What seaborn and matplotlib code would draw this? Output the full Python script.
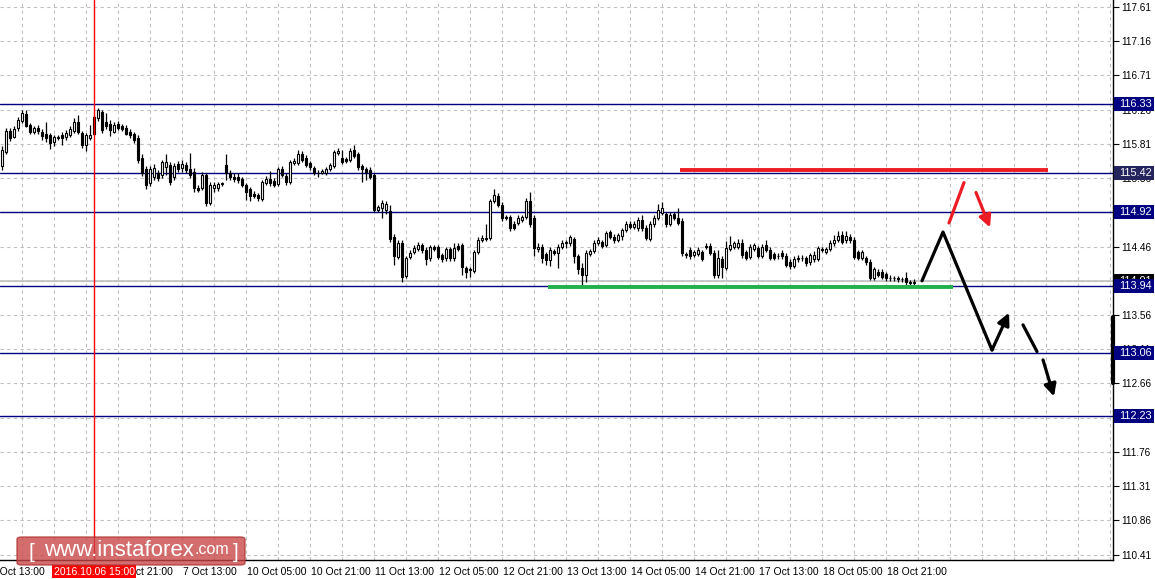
import numpy as np
import pandas as pd
import matplotlib
matplotlib.use("Agg")
import matplotlib.pyplot as plt
import matplotlib.transforms as mtrans
from matplotlib.patches import FancyBboxPatch, Rectangle
import seaborn as sns

# H1 candles, 5 Oct 16:00 -> 19 Oct 04:00
opens = [
    115.52, 115.70, 115.98, 115.90, 116.02, 116.11, 116.20, 116.06, 115.97, 116.02,
    115.97, 115.94, 115.92, 115.84, 115.89, 115.93, 115.90, 115.93, 115.98, 116.10,
    115.95, 115.80, 115.89, 116.16, 116.15, 116.23, 116.10, 116.07, 115.97, 116.07,
    116.05, 116.02, 115.97, 115.94, 115.89, 115.63, 115.48, 115.30, 115.38, 115.43,
    115.40, 115.51, 115.53, 115.38, 115.55, 115.49, 115.53, 115.48, 115.44, 115.23,
    115.23, 115.40, 115.03, 115.23, 115.23, 115.28, 115.53, 115.43, 115.38, 115.37,
    115.35, 115.27, 115.21, 115.15, 115.14, 115.09, 115.30, 115.35, 115.32, 115.28,
    115.48, 115.39, 115.31, 115.56, 115.56, 115.68, 115.63, 115.56, 115.49, 115.43,
    115.43, 115.43, 115.48, 115.52, 115.69, 115.63, 115.61, 115.60, 115.73, 115.67,
    115.52, 115.48, 115.47, 115.40, 114.94, 114.96, 114.94, 114.93, 114.59, 114.32,
    114.51, 114.07, 114.32, 114.39, 114.43, 114.48, 114.42, 114.31, 114.45, 114.45,
    114.35, 114.31, 114.43, 114.31, 114.47, 114.48, 114.18, 114.16, 114.14, 114.39,
    114.55, 114.57, 114.57, 115.06, 115.13, 115.01, 114.85, 114.85, 114.76, 114.77,
    114.81, 114.85, 115.06, 114.84, 114.43, 114.46, 114.36, 114.28, 114.40, 114.38,
    114.46, 114.51, 114.50, 114.56, 114.33, 114.18, 114.09, 114.36, 114.40, 114.51,
    114.52, 114.48, 114.65, 114.59, 114.55, 114.60, 114.68, 114.75, 114.72, 114.71,
    114.81, 114.71, 114.56, 114.75, 114.84, 114.90, 114.89, 114.76, 114.89, 114.84,
    114.80, 114.36, 114.42, 114.35, 114.36, 114.39, 114.47, 114.47, 114.38, 114.08,
    114.30, 114.18, 114.43, 114.46, 114.46, 114.51, 114.39, 114.32, 114.43, 114.44,
    114.34, 114.48, 114.42, 114.36, 114.34, 114.38, 114.34, 114.26, 114.21, 114.29,
    114.31, 114.31, 114.26, 114.30, 114.30, 114.43, 114.39, 114.43, 114.50, 114.55,
    114.61, 114.55, 114.59, 114.55, 114.39, 114.31, 114.31, 114.26, 114.05, 114.13,
    114.13, 114.10, 114.05, 114.04, 114.04, 114.03, 114.05, 113.99, 113.98,
]
highs = [
    115.78, 116.02, 116.02, 116.05, 116.16, 116.26, 116.26, 116.09, 116.05, 116.06,
    116.01, 116.10, 115.95, 115.93, 115.93, 115.96, 115.99, 116.05, 116.15, 116.19,
    115.98, 115.95, 116.06, 116.19, 116.28, 116.26, 116.22, 116.12, 116.10, 116.11,
    116.07, 116.06, 116.01, 115.97, 115.93, 115.67, 115.52, 115.52, 115.54, 115.47,
    115.60, 115.67, 115.57, 115.56, 115.59, 115.60, 115.57, 115.69, 115.49, 115.27,
    115.44, 115.43, 115.31, 115.31, 115.31, 115.31, 115.67, 115.47, 115.42, 115.42,
    115.38, 115.30, 115.24, 115.19, 115.17, 115.34, 115.39, 115.45, 115.36, 115.51,
    115.52, 115.42, 115.60, 115.62, 115.73, 115.72, 115.66, 115.59, 115.52, 115.47,
    115.48, 115.51, 115.56, 115.73, 115.75, 115.73, 115.64, 115.75, 115.80, 115.70,
    115.55, 115.51, 115.50, 115.43, 115.01, 115.07, 115.06, 115.01, 114.62, 114.54,
    114.54, 114.34, 114.42, 114.48, 114.52, 114.51, 114.45, 114.48, 114.48, 114.48,
    114.38, 114.46, 114.46, 114.50, 114.50, 114.51, 114.21, 114.19, 114.42, 114.58,
    114.61, 114.75, 115.09, 115.21, 115.17, 115.04, 114.88, 114.88, 114.79, 114.87,
    114.88, 115.10, 115.18, 114.87, 114.50, 114.49, 114.39, 114.45, 114.43, 114.49,
    114.55, 114.55, 114.61, 114.59, 114.36, 114.25, 114.41, 114.43, 114.54, 114.58,
    114.55, 114.67, 114.68, 114.62, 114.64, 114.71, 114.79, 114.80, 114.79, 114.85,
    114.87, 114.74, 114.79, 114.87, 115.02, 115.05, 114.92, 114.91, 114.92, 114.97,
    114.83, 114.39, 114.45, 114.42, 114.45, 114.42, 114.50, 114.50, 114.41, 114.41,
    114.33, 114.53, 114.60, 114.53, 114.56, 114.56, 114.42, 114.49, 114.51, 114.47,
    114.49, 114.55, 114.45, 114.39, 114.37, 114.41, 114.37, 114.29, 114.33, 114.35,
    114.35, 114.34, 114.38, 114.40, 114.47, 114.46, 114.46, 114.54, 114.61, 114.66,
    114.66, 114.66, 114.63, 114.58, 114.42, 114.42, 114.34, 114.29, 114.19, 114.16,
    114.16, 114.13, 114.08, 114.07, 114.07, 114.06, 114.12, 114.02, 114.03,
]
lows = [
    115.47, 115.67, 115.85, 115.88, 115.98, 116.09, 116.03, 115.94, 115.94, 115.94,
    115.86, 115.84, 115.74, 115.78, 115.86, 115.80, 115.86, 115.90, 115.95, 115.94,
    115.76, 115.72, 115.86, 115.92, 116.11, 115.95, 116.01, 115.91, 115.95, 115.99,
    115.98, 115.92, 115.88, 115.82, 115.56, 115.39, 115.21, 115.25, 115.34, 115.32,
    115.36, 115.40, 115.27, 115.34, 115.44, 115.44, 115.42, 115.36, 115.18, 115.18,
    115.20, 114.99, 115.01, 115.18, 115.19, 115.26, 115.34, 115.34, 115.31, 115.30,
    115.24, 115.07, 115.06, 115.10, 115.06, 115.06, 115.27, 115.26, 115.24, 115.25,
    115.37, 115.27, 115.28, 115.53, 115.53, 115.57, 115.50, 115.47, 115.40, 115.38,
    115.41, 115.40, 115.45, 115.49, 115.66, 115.54, 115.56, 115.57, 115.62, 115.47,
    115.31, 115.34, 115.35, 114.91, 114.91, 114.84, 114.89, 114.52, 114.22, 114.29,
    114.00, 114.04, 114.29, 114.36, 114.40, 114.38, 114.22, 114.27, 114.40, 114.29,
    114.26, 114.27, 114.27, 114.27, 114.40, 114.08, 114.05, 114.06, 114.11, 114.36,
    114.52, 114.53, 114.54, 115.03, 114.98, 114.80, 114.81, 114.66, 114.68, 114.74,
    114.78, 114.82, 114.72, 114.33, 114.39, 114.25, 114.22, 114.20, 114.35, 114.18,
    114.43, 114.44, 114.47, 114.25, 114.10, 113.96, 113.99, 114.33, 114.37, 114.48,
    114.44, 114.45, 114.56, 114.51, 114.52, 114.55, 114.65, 114.69, 114.69, 114.67,
    114.67, 114.54, 114.53, 114.72, 114.81, 114.87, 114.72, 114.73, 114.81, 114.74,
    114.33, 114.31, 114.30, 114.32, 114.33, 114.27, 114.43, 114.35, 114.05, 114.05,
    114.05, 114.15, 114.40, 114.43, 114.43, 114.31, 114.28, 114.29, 114.40, 114.31,
    114.31, 114.39, 114.28, 114.28, 114.30, 114.30, 114.19, 114.17, 114.18, 114.26,
    114.27, 114.21, 114.22, 114.26, 114.27, 114.39, 114.36, 114.40, 114.47, 114.52,
    114.49, 114.51, 114.51, 114.29, 114.28, 114.28, 114.22, 114.02, 114.02, 114.06,
    114.03, 114.01, 114.01, 114.01, 114.00, 114.00, 113.96, 113.95, 113.95,
]
closes = [
    115.73, 115.98, 115.89, 116.01, 116.12, 116.22, 116.05, 115.97, 116.02, 115.98,
    115.91, 115.89, 115.82, 115.90, 115.90, 115.89, 115.95, 116.01, 116.10, 115.97,
    115.80, 115.92, 115.93, 115.94, 116.26, 115.99, 116.05, 115.99, 116.06, 116.02,
    116.01, 115.94, 115.93, 115.86, 115.60, 115.43, 115.27, 115.48, 115.49, 115.36,
    115.57, 115.57, 115.31, 115.52, 115.48, 115.55, 115.47, 115.40, 115.23, 115.20,
    115.40, 115.03, 115.27, 115.27, 115.28, 115.29, 115.42, 115.38, 115.35, 115.34,
    115.27, 115.18, 115.13, 115.13, 115.10, 115.31, 115.35, 115.30, 115.27, 115.48,
    115.40, 115.31, 115.57, 115.59, 115.67, 115.60, 115.53, 115.51, 115.43, 115.42,
    115.45, 115.48, 115.53, 115.70, 115.72, 115.57, 115.59, 115.72, 115.65, 115.51,
    115.48, 115.44, 115.38, 114.94, 114.98, 115.03, 115.02, 114.56, 114.34, 114.51,
    114.06, 114.31, 114.38, 114.44, 114.48, 114.42, 114.29, 114.45, 114.43, 114.32,
    114.30, 114.43, 114.31, 114.44, 114.43, 114.19, 114.13, 114.15, 114.39, 114.55,
    114.57, 114.56, 115.06, 115.14, 115.01, 114.84, 114.84, 114.71, 114.71, 114.84,
    114.85, 115.06, 114.75, 114.44, 114.46, 114.31, 114.28, 114.42, 114.38, 114.46,
    114.51, 114.52, 114.58, 114.33, 114.17, 114.08, 114.38, 114.40, 114.51, 114.54,
    114.47, 114.64, 114.59, 114.54, 114.61, 114.68, 114.75, 114.72, 114.75, 114.81,
    114.71, 114.57, 114.76, 114.84, 114.94, 114.97, 114.76, 114.88, 114.84, 114.77,
    114.38, 114.35, 114.34, 114.39, 114.42, 114.30, 114.46, 114.38, 114.08, 114.31,
    114.19, 114.44, 114.48, 114.50, 114.51, 114.35, 114.31, 114.46, 114.48, 114.34,
    114.46, 114.42, 114.31, 114.31, 114.33, 114.33, 114.22, 114.21, 114.30, 114.31,
    114.31, 114.25, 114.35, 114.35, 114.44, 114.42, 114.43, 114.51, 114.55, 114.60,
    114.52, 114.60, 114.54, 114.32, 114.31, 114.39, 114.26, 114.05, 114.16, 114.09,
    114.06, 114.04, 114.04, 114.04, 114.03, 114.03, 113.99, 113.98, 114.00,
]

# horizontal levels drawn on the chart
levels = [116.33, 115.42, 114.92, 113.94, 113.06, 112.23]
level_box = ["#000080", "#25255e", "#000080", "#000080", "#000080", "#000080"]
bid = 114.01

# price scale
y_ticks = [117.61, 117.16, 116.71, 116.26, 115.81, 115.36, 114.91, 114.46,
           114.01, 113.56, 113.11, 112.66, 112.21, 111.76, 111.31, 110.86, 110.41]

# time axis (bar index -> label)
time_pos = [-3, 13, 29, 45, 61, 77, 93, 109, 125, 141, 157, 173, 189, 205, 221]
time_labels = ["5 Oct 13:00", "6 Oct 05:00", "6 Oct 21:00", "7 Oct 13:00",
               "10 Oct 05:00", "10 Oct 21:00", "11 Oct 13:00", "12 Oct 05:00",
               "12 Oct 21:00", "13 Oct 13:00", "14 Oct 05:00", "14 Oct 21:00",
               "17 Oct 13:00", "18 Oct 05:00", "18 Oct 21:00"]
marker_bar = 23
marker_label = "2016.10.06 15:00"

# forecast drawings (bar index, price)
forecast_x = [230.0, 235.25, 247.5]
forecast_y = [114.01, 114.65, 113.10]
rebound_tip = (251.75, 113.59)
dash1 = [(255.25, 113.43), (258.75, 113.08)]
dash2 = [(260.25, 112.97), (263.0, 112.49)]
red_stroke = [(236.75, 114.77), (240.5, 115.30)]
red_arrow = [(243.5, 115.17), (247.0, 114.71)]
resist = (169.5, 261.5, 115.46)
support = (136.5, 237.75, 113.93)

df = pd.DataFrame({"open": opens, "high": highs, "low": lows, "close": closes})
df["bar"] = np.arange(len(df))
df["high"] = df[["open", "high", "close"]].max(axis=1)
df["low"] = df[["open", "low", "close"]].min(axis=1)
df["bull"] = df["close"] >= df["open"]

sns.set_style("white")
plt.rcParams["font.family"] = ["Liberation Sans", "DejaVu Sans"]

W, H = 1155, 579
fig = plt.figure(figsize=(W / 100, H / 100), dpi=100)
ax = fig.add_axes([0, 1 - 560 / H, 1113 / W, 560 / H])

# grid
for y in y_ticks:
    ax.axhline(y, color="#c0c0c0", lw=0.8, dashes=(3, 3), zorder=0)
for x in np.arange(5, 280, 8):
    ax.axvline(x, color="#c0c0c0", lw=0.8, dashes=(3, 3), zorder=0)

# levels
ax.axhline(bid, color="#c0c0c0", lw=1.2, zorder=1)
for lv in levels:
    ax.axhline(lv, color="#000080", lw=1.0, zorder=1)
ax.axvline(marker_bar, color="red", lw=1.0, zorder=4)

# candles
ax.vlines(df["bar"], df["low"], df["high"], color="black", lw=0.9, zorder=2)
body_bottom = df[["open", "close"]].min(axis=1)
body_h = (df["close"] - df["open"]).abs()
ax.bar(df["bar"], body_h, bottom=body_bottom, width=0.72,
       color=np.where(df["bull"], "white", "black"), edgecolor="black",
       linewidth=0.8, zorder=3)

# support / resistance
ax.plot([resist[0], resist[1]], [resist[2], resist[2]], color="#ed1c24", lw=2.8,
        solid_capstyle="butt", zorder=5)
ax.plot([support[0], support[1]], [support[2], support[2]], color="#22b14c", lw=2.8,
        solid_capstyle="butt", zorder=5)

# forecast path
sns.lineplot(x=forecast_x, y=forecast_y, sort=False, color="black", lw=2.3,
             ax=ax, zorder=6)
arr = dict(arrowstyle="-|>", color="black", lw=2.3, mutation_scale=18,
           shrinkA=0, shrinkB=0)
ax.annotate("", xy=rebound_tip, xytext=(forecast_x[-1], forecast_y[-1]),
            arrowprops=arr, zorder=6)
ax.plot(*zip(*dash1), color="black", lw=2.3, zorder=6)
ax.annotate("", xy=dash2[1], xytext=dash2[0], arrowprops=arr, zorder=6)
ax.plot(*zip(*red_stroke), color="#ed1c24", lw=2.3, zorder=6)
ax.annotate("", xy=red_arrow[1], xytext=red_arrow[0],
            arrowprops=dict(arr, color="#ed1c24"), zorder=6)

# axes styling
for s in ["top", "left"]:
    ax.spines[s].set_visible(False)
for s in ["right", "bottom"]:
    ax.spines[s].set_color("black")
    ax.spines[s].set_linewidth(1.0)
ax.yaxis.tick_right()
ax.set_yticks(y_ticks)
ax.set_yticklabels([f"{v:.2f}" for v in y_ticks])
ax.tick_params(axis="y", direction="out", length=4, width=0.8, pad=2,
               labelsize=7.2, colors="black")
ax.set_xticks(time_pos)
ax.set_xticklabels([])
ax.tick_params(axis="x", direction="out", length=4, width=0.8)
# limits last: set_xticks would widen them otherwise
ax.set_xlim(-0.5, -0.5 + 1113 / 4)
ax.set_ylim(110.34, 117.70)

yt = mtrans.blended_transform_factory(ax.transAxes, ax.transData)
ax.plot([1.0, 1.0], [113.54, 112.67], color="black", lw=3, transform=yt,
        clip_on=False, zorder=7)

xt = mtrans.blended_transform_factory(ax.transData, ax.transAxes)
for p, lab in zip(time_pos, time_labels):
    ax.text(p + 0.3, -0.012, lab, transform=xt, ha="left", va="top",
            fontsize=7.5, color="black", clip_on=False)
ax.text(marker_bar, -0.012, marker_label, transform=xt, ha="center", va="top",
        fontsize=7.5, color="white", clip_on=False, zorder=10,
        bbox=dict(boxstyle="square,pad=0.15", fc="red", ec="none"))

# right-side level labels (boxes in figure pixels)
def price_to_fig(p):
    y0, y1 = ax.get_ylim()
    pos = ax.get_position()
    return pos.y0 + (p - y0) / (y1 - y0) * pos.height

def right_label(p, text, fc, z):
    yc = price_to_fig(p)
    fig.patches.append(Rectangle((1114 / W, yc - 7 / H), 40 / W, 14 / H,
                                 transform=fig.transFigure, fc=fc, ec="none",
                                 zorder=z))
    fig.text(1119 / W, yc, text, color="white", fontsize=7.8, ha="left",
             va="center", zorder=z + 0.5)

right_label(bid, f"{bid:.2f}", "black", 8)
for lv, c in zip(levels, level_box):
    right_label(lv, f"{lv:.2f}", c, 9)

# watermark
wm = FancyBboxPatch((17 / W, 1 - 565 / H), 228 / W, 28 / H,
                    boxstyle="round,pad=0,rounding_size=0.004",
                    transform=fig.transFigure, fc="#c94545", ec="#b03030",
                    alpha=0.78, zorder=20)
fig.patches.append(wm)
fig.text(28 / W, 1 - 552 / H, "[", color="white", fontsize=15, va="center",
         ha="left", zorder=21)
fig.text(44 / W, 1 - 551 / H, "www.instaforex", color="white", fontsize=16,
         va="center", ha="left", zorder=21)
fig.text(194 / W, 1 - 550 / H, ".com", color="white", fontsize=11.5,
         va="center", ha="left", zorder=21)
fig.text(233 / W, 1 - 552 / H, "]", color="white", fontsize=15, va="center",
         ha="left", zorder=21)

fig.savefig("out.png", dpi=100)
